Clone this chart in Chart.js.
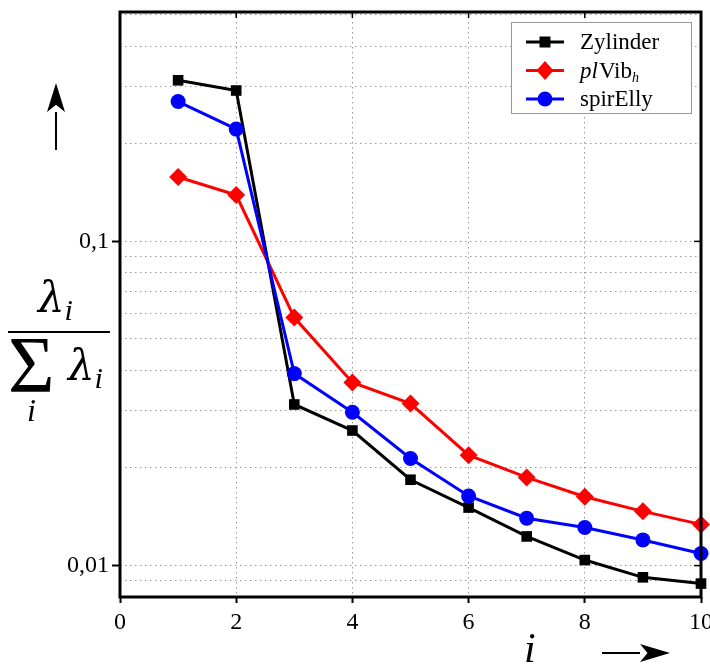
<!DOCTYPE html>
<html>
<head>
<meta charset="utf-8">
<script src="https://cdn.jsdelivr.net/npm/chart.js@4.4.0/dist/chart.umd.min.js"></script>
<style>
  html, body { margin: 0; padding: 0; background: #fff; }
  canvas { display: block; }
</style>
</head>
<body>
<canvas id="chart" width="710" height="665"></canvas>
<script>
"use strict";

// mode number i
const modes = [1, 2, 3, 4, 5, 6, 7, 8, 9, 10];

// lambda_i / sum(lambda_i)
const zylinder = [0.314, 0.292, 0.0314, 0.0261, 0.0184, 0.0151, 0.0123, 0.0104, 0.0092, 0.0088];
const plVib    = [0.158, 0.139, 0.0582, 0.0367, 0.0316, 0.0219, 0.0187, 0.0163, 0.0147, 0.0134];
const spirElly = [0.270, 0.222, 0.0391, 0.0297, 0.0214, 0.0164, 0.0140, 0.0131, 0.0120, 0.0109];

const xTicks = [0, 2, 4, 6, 8, 10];
const yTicks = [0.008, 0.009, 0.01, 0.02, 0.03, 0.04, 0.05, 0.06, 0.07, 0.08, 0.09, 0.1, 0.2, 0.3, 0.4, 0.5];
const yTickLabels = { 0.01: "0,01", 0.1: "0,1" };

const SERIF = "'Liberation Serif', 'Times New Roman', serif";

const series = [
    { name: "Zylinder", data: zylinder, color: "#000000", style: "rect", radius: 7.5 },
    { name: "plVib", data: plVib, color: "#ff0000", style: "rectRot", radius: 9 },
    { name: "spirElly", data: spirElly, color: "#0000ff", style: "circle", radius: 7.5 },
];

function drawMarker(ctx, style, x, y, color) {
    ctx.save();
    ctx.fillStyle = color;
    ctx.beginPath();
    if (style === "rect") {
        ctx.rect(x - 5.5, y - 5.5, 11, 11);
    } else if (style === "rectRot") {
        ctx.moveTo(x, y - 9.5);
        ctx.lineTo(x + 8.5, y);
        ctx.lineTo(x, y + 9.5);
        ctx.lineTo(x - 8.5, y);
        ctx.closePath();
    } else {
        ctx.arc(x, y, 7.5, 0, Math.PI * 2);
    }
    ctx.fill();
    ctx.restore();
}

// draws a run of text pieces, each with its own style
function drawRuns(ctx, runs, x, y) {
    runs.forEach((r) => {
        ctx.font = (r.italic ? "italic " : "") + r.size + "px " + (r.family || SERIF);
        ctx.fillText(r.t, x, y + (r.dy || 0));
        x += ctx.measureText(r.t).width + (r.gap || 0);
    });
}

function drawArrow(ctx, x1, y1, x2, y2, headLen, headHalf) {
    const ang = Math.atan2(y2 - y1, x2 - x1);
    const bx = x2 - headLen * Math.cos(ang);
    const by = y2 - headLen * Math.sin(ang);
    ctx.save();
    ctx.strokeStyle = "#000";
    ctx.fillStyle = "#000";
    ctx.lineWidth = 2;
    ctx.beginPath();
    ctx.moveTo(x1, y1);
    ctx.lineTo(bx, by);
    ctx.stroke();
    const nx = -Math.sin(ang), ny = Math.cos(ang);
    ctx.beginPath();
    ctx.moveTo(x2, y2);
    ctx.lineTo(bx + nx * headHalf, by + ny * headHalf);
    ctx.lineTo(x2 - headLen * 0.75 * Math.cos(ang), y2 - headLen * 0.75 * Math.sin(ang));
    ctx.lineTo(bx - nx * headHalf, by - ny * headHalf);
    ctx.closePath();
    ctx.fill();
    ctx.restore();
}

// frame, inner ticks, legend and the axis titles
const decorations = {
    id: "decorations",
    afterDraw(chart) {
        const { ctx, chartArea: a, scales } = chart;
        ctx.save();

        // frame round the plot
        ctx.strokeStyle = "#000";
        ctx.lineWidth = 3;
        ctx.strokeRect(a.left, a.top, a.right - a.left, a.bottom - a.top);

        // inward ticks on top and right
        ctx.lineWidth = 1.5;
        xTicks.forEach((v) => {
            const px = scales.x.getPixelForValue(v);
            ctx.beginPath();
            ctx.moveTo(px, a.top);
            ctx.lineTo(px, a.top + 6);
            ctx.stroke();
        });
        Object.keys(yTickLabels).forEach((k) => {
            const py = scales.y.getPixelForValue(Number(k));
            ctx.beginPath();
            ctx.moveTo(a.right, py);
            ctx.lineTo(a.right - 7, py);
            ctx.stroke();
        });

        // legend
        const lx = a.right - 190, ly = a.top + 10, lw = 180, lh = 91;
        ctx.fillStyle = "#fff";
        ctx.fillRect(lx, ly, lw, lh);
        ctx.strokeStyle = "#999";
        ctx.lineWidth = 1;
        ctx.strokeRect(lx + 0.5, ly + 0.5, lw, lh);
        ctx.textBaseline = "alphabetic";
        ctx.textAlign = "left";
        series.forEach((s, i) => {
            const cy = ly + 20 + i * 28.5;
            ctx.strokeStyle = s.color;
            ctx.lineWidth = 3;
            ctx.beginPath();
            ctx.moveTo(lx + 15, cy);
            ctx.lineTo(lx + 53, cy);
            ctx.stroke();
            drawMarker(ctx, s.style, lx + 34, cy, s.color);
            ctx.fillStyle = "#000";
            if (s.name === "plVib") {
                drawRuns(ctx, [
                    { t: "pl", italic: true, size: 23, gap: 1 },
                    { t: "Vib", size: 23 },
                    { t: "h", italic: true, size: 14, dy: 4 },
                ], lx + 69, cy + 7);
            } else {
                drawRuns(ctx, [{ t: s.name, size: 23 }], lx + 69, cy + 7);
            }
        });

        // y title: lambda_i / sum_i lambda_i
        ctx.fillStyle = "#000";
        const GREEK = "'DejaVu Serif', " + SERIF;
        drawRuns(ctx, [
            { t: "λ", italic: true, size: 42, family: GREEK, gap: 0 },
            { t: "i", italic: true, size: 30, dy: 8 },
        ], 38, 312);
        ctx.lineWidth = 2;
        ctx.strokeStyle = "#000";
        ctx.beginPath();
        ctx.moveTo(8, 332);
        ctx.lineTo(110, 332);
        ctx.stroke();
        ctx.font = "80px " + SERIF;
        ctx.fillText("Σ", 8, 392);
        drawRuns(ctx, [
            { t: "λ", italic: true, size: 42, family: GREEK, gap: 0 },
            { t: "i", italic: true, size: 30, dy: 8 },
        ], 68, 380);
        ctx.font = "italic 32px " + SERIF;
        ctx.fillText("i", 27, 421);
        drawArrow(ctx, 56, 150, 56, 83, 29, 9);

        // x title: i ->
        ctx.font = "italic 42px " + SERIF;
        ctx.fillText("i", 524, 662);
        drawArrow(ctx, 602, 653, 670, 653, 30, 9);

        ctx.restore();
    },
};

const datasets = series.map((s, i) => ({
    label: s.name,
    data: modes.map((m, k) => ({ x: m, y: s.data[k] })),
    borderColor: s.color,
    backgroundColor: s.color,
    borderWidth: 3,
    pointStyle: s.style,
    pointRadius: s.radius,
    pointBorderWidth: 0,
    pointHoverRadius: s.radius,
    order: series.length - i,
    clip: false,
}));

new Chart(document.getElementById("chart").getContext("2d"), {
    type: "line",
    data: { datasets: datasets },
    options: {
        responsive: false,
        animation: false,
        layout: { padding: { top: 12, right: 7, left: 0, bottom: 0 } },
        plugins: {
            legend: { display: false },
            tooltip: { enabled: false },
        },
        scales: {
            x: {
                type: "linear",
                min: 0,
                max: 10,
                afterBuildTicks: (scale) => {
                    scale.ticks = xTicks.map((v) => ({ value: v }));
                },
                afterFit: (scale) => {
                    scale.height = 68;
                    scale.paddingLeft = 0;
                    scale.paddingRight = 0;
                },
                ticks: {
                    color: "#000",
                    font: { family: SERIF, size: 24 },
                    padding: 5,
                    maxRotation: 0,
                    autoSkip: false,
                },
                grid: {
                    color: "#999",
                    lineWidth: 1,
                    tickLength: 6,
                    tickColor: "#000",
                    tickWidth: 2,
                },
                border: { display: false, dash: [1.5, 3.5] },
            },
            y: {
                type: "logarithmic",
                min: 0.008,
                max: 0.51,
                afterBuildTicks: (scale) => {
                    scale.ticks = yTicks.map((v) => ({ value: v }));
                },
                afterFit: (scale) => {
                    scale.width = 120;
                    scale.paddingTop = 0;
                    scale.paddingBottom = 0;
                },
                ticks: {
                    color: "#000",
                    font: { family: SERIF, size: 24 },
                    padding: 3,
                    autoSkip: false,
                    callback: (value) => yTickLabels[value] || "",
                },
                grid: {
                    color: "#999",
                    lineWidth: 1,
                    tickLength: 8,
                    tickWidth: 2,
                    tickColor: (c) => (c.tick && yTickLabels[c.tick.value] ? "#000" : "rgba(0,0,0,0)"),
                },
                border: { display: false, dash: [1.5, 3.5] },
            },
        },
    },
    plugins: [decorations],
});
</script>
</body>
</html>
